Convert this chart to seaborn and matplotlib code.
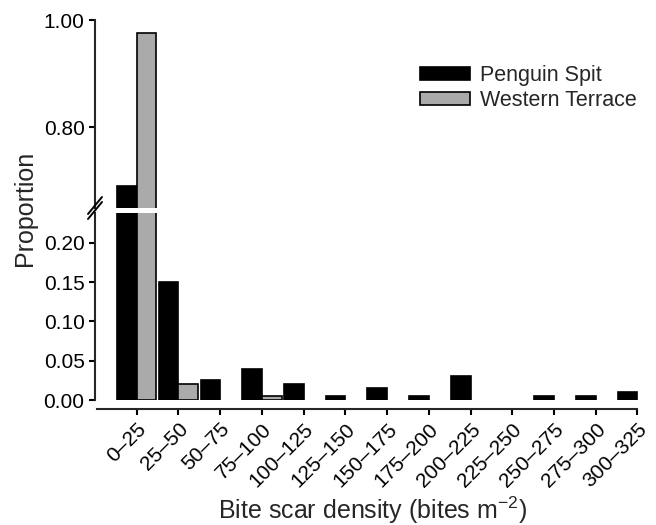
import pandas as pd
import matplotlib.pyplot as plt
import seaborn as sns

# bins and proportions
bins = ["0–25", "25–50", "50–75", "75–100", "100–125", "125–150", "150–175",
        "175–200", "200–225", "225–250", "250–275", "275–300", "300–325"]
penguin_spit = [0.69, 0.15, 0.025, 0.04, 0.02, 0.005, 0.015, 0.005, 0.03, 0.0, 0.005, 0.005, 0.01]
western_terrace = [0.975, 0.02, 0.0, 0.005, 0.0, 0.0, 0.0, 0.0, 0.0, 0.0, 0.0, 0.0, 0.0]
sites = ["Penguin Spit", "Western Terrace"]

df = pd.DataFrame({
    "bin": bins * 2,
    "prop": penguin_spit + western_terrace,
    "site": [sites[0]] * len(bins) + [sites[1]] * len(bins),
})

sns.set_style("ticks")
plt.rcParams["font.family"] = ["Liberation Sans", "DejaVu Sans"]
plt.rcParams["mathtext.fontset"] = "custom"
plt.rcParams["mathtext.rm"] = "Liberation Sans"
plt.rcParams["mathtext.it"] = "Liberation Sans:italic"

W, H = 656, 525
fig = plt.figure(figsize=(W / 100, H / 100), dpi=100)
ax_top = fig.add_axes([95 / W, 1 - 208 / H, 555 / W, 188 / H])
ax_bot = fig.add_axes([95 / W, 1 - 400 / H, 555 / W, 187 / H])

pal = {"Penguin Spit": "black", "Western Terrace": "#aaaaaa"}
for ax in (ax_top, ax_bot):
    sns.barplot(data=df, x="bin", y="prop", hue="site", palette=pal, width=0.94,
                edgecolor="black", linewidth=1.2, saturation=1, ax=ax,
                legend=(ax is ax_top))
    for p in ax.patches:
        if p.get_height() == 0:
            p.set_visible(False)
    ax.set_xlim(-1.0, 12.3)
    ax.set_xlabel("")
    ax.set_ylabel("")
    for s in ("top", "right"):
        ax.spines[s].set_visible(False)
    ax.spines["left"].set_linewidth(1.5)
    ax.tick_params(axis="y", labelsize=15, width=1.5, length=4, colors="black")

# top panel
ax_top.set_ylim(0.6486, 1.0)
ax_top.set_yticks([0.80, 1.00])
ax_top.set_yticklabels(["0.80", "1.00"])
ax_top.spines["bottom"].set_visible(False)
ax_top.tick_params(axis="x", bottom=False, labelbottom=False)

# bottom panel
ax_bot.set_ylim(0, 0.238)
ax_bot.set_yticks([0, 0.05, 0.10, 0.15, 0.20])
ax_bot.set_yticklabels(["0.00", "0.05", "0.10", "0.15", "0.20"])
ax_bot.spines["bottom"].set_position(("outward", 6.5))
ax_bot.spines["bottom"].set_linewidth(1.5)
ax_bot.spines["bottom"].set_bounds(-0.95, 12)
ax_bot.tick_params(axis="x", labelsize=15, width=1.5, length=4, colors="black")
for lab in ax_bot.get_xticklabels():
    lab.set_rotation(45)
    lab.set_ha("right")
    lab.set_rotation_mode("anchor")
ax_bot.set_xlabel(r"Bite scar density (bites m$^{-2}$)", fontsize=18, labelpad=3)

fig.text(25 / W, 1 - 208 / H, "Proportion", rotation=90, fontsize=18,
         ha="center", va="center")

# axis break marks
for dy in (0, 5):
    fig.add_artist(plt.Line2D([88 / W, 102 / W], [1 - (219 + dy - 5) / H, 1 - (202 + dy - 5) / H],
                              color="black", lw=1.4))

sns.move_legend(ax_top, loc="upper left", bbox_to_anchor=((420 - 95) / 555, 1 - 45 / 188),
                title=None, frameon=False, fontsize=15.5, handlelength=2.3, handleheight=0.55,
                handletextpad=0.5, labelspacing=0.2, borderaxespad=0, borderpad=0)

fig.savefig("out.png", dpi=100)
